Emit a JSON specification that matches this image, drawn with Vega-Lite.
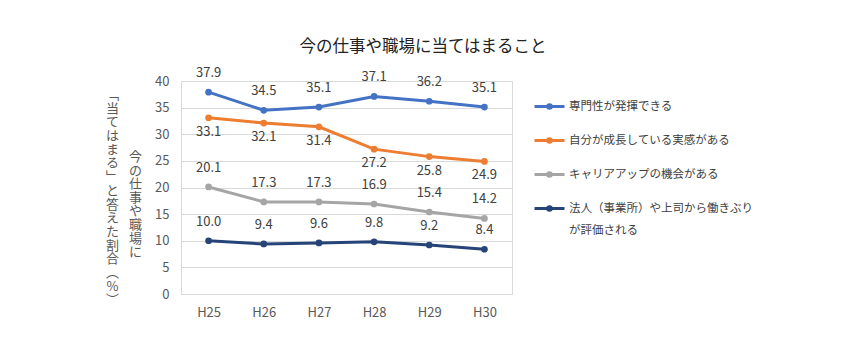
{
  "$schema": "https://vega.github.io/schema/vega-lite/v6.json",
  "width": 331,
  "height": 213,
  "autosize": {"type": "none"},
  "padding": {"left": 181, "top": 81, "right": 334, "bottom": 66},
  "background": "white",
  "title": {
    "text": "今の仕事や職場に当てはまること",
    "anchor": "middle",
    "frame": "group",
    "dx": 76.5,
    "fontSize": 16.5,
    "fontWeight": "normal",
    "font": "Noto Sans CJK JP",
    "color": "#222222",
    "offset": 12
  },
  "data": {
    "values": [
      {"year": "H25", "series": "専門性が発揮できる", "value": 37.9},
      {"year": "H26", "series": "専門性が発揮できる", "value": 34.5},
      {"year": "H27", "series": "専門性が発揮できる", "value": 35.1},
      {"year": "H28", "series": "専門性が発揮できる", "value": 37.1},
      {"year": "H29", "series": "専門性が発揮できる", "value": 36.2},
      {"year": "H30", "series": "専門性が発揮できる", "value": 35.1},
      {"year": "H25", "series": "自分が成長している実感がある", "value": 33.1},
      {"year": "H26", "series": "自分が成長している実感がある", "value": 32.1},
      {"year": "H27", "series": "自分が成長している実感がある", "value": 31.4},
      {"year": "H28", "series": "自分が成長している実感がある", "value": 27.2},
      {"year": "H29", "series": "自分が成長している実感がある", "value": 25.8},
      {"year": "H30", "series": "自分が成長している実感がある", "value": 24.9},
      {"year": "H25", "series": "キャリアアップの機会がある", "value": 20.1},
      {"year": "H26", "series": "キャリアアップの機会がある", "value": 17.3},
      {"year": "H27", "series": "キャリアアップの機会がある", "value": 17.3},
      {"year": "H28", "series": "キャリアアップの機会がある", "value": 16.9},
      {"year": "H29", "series": "キャリアアップの機会がある", "value": 15.4},
      {"year": "H30", "series": "キャリアアップの機会がある", "value": 14.2},
      {"year": "H25", "series": "法人（事業所）や上司から働きぶりが評価される", "value": 10.0},
      {"year": "H26", "series": "法人（事業所）や上司から働きぶりが評価される", "value": 9.4},
      {"year": "H27", "series": "法人（事業所）や上司から働きぶりが評価される", "value": 9.6},
      {"year": "H28", "series": "法人（事業所）や上司から働きぶりが評価される", "value": 9.8},
      {"year": "H29", "series": "法人（事業所）や上司から働きぶりが評価される", "value": 9.2},
      {"year": "H30", "series": "法人（事業所）や上司から働きぶりが評価される", "value": 8.4}
    ]
  },
  "encoding": {
    "x": {
      "field": "year",
      "type": "ordinal",
      "scale": {"type": "point", "padding": 0.5},
      "axis": {
        "title": null,
        "labelAngle": 0,
        "ticks": false,
        "domain": true,
        "domainColor": "#d9d9d9",
        "grid": false,
        "labelPadding": 12,
        "labelFontSize": 13,
        "labelColor": "#595959",
        "labelFont": "Noto Sans CJK JP"
      }
    }
  },
  "layer": [
    {
      "mark": {"type": "line", "strokeWidth": 3, "point": {"filled": true, "size": 45}},
      "encoding": {
        "y": {
          "field": "value",
          "type": "quantitative",
          "scale": {"domain": [0, 40], "nice": false},
          "axis": {
            "orient": "left",
            "values": [0, 5, 10, 15, 20, 25, 30, 35, 40],
            "ticks": false,
            "domain": false,
            "gridColor": "#d9d9d9",
            "labelPadding": 12,
            "labelFontSize": 13,
            "labelColor": "#595959",
            "labelFont": "Noto Sans CJK JP",
            "title": ["﹁", "当", "て", "は", "ま", "る", "﹂", "と", "答", "え", "た", "割", "合", "︵", "%", "︶"],
            "titleAngle": 0.01,
            "titleAlign": "center",
            "titleBaseline": "top",
            "titleX": -69,
            "titleY": 7.5,
            "titleLineHeight": 13.7,
            "titleFontSize": 13,
            "titleFontWeight": "normal",
            "titleFont": "Noto Sans CJK JP",
            "titleColor": "#595959",
            "titleLimit": 1000
          }
        },
        "color": {
          "field": "series",
          "type": "nominal",
          "sort": null,
          "scale": {
            "domain": ["専門性が発揮できる", "自分が成長している実感がある", "キャリアアップの機会がある", "法人（事業所）や上司から働きぶりが評価される"],
            "range": ["#4472C4", "#ED7D31", "#A5A5A5", "#264478"]
          },
          "legend": {
            "title": null,
            "orient": "none",
            "legendX": 352,
            "legendY": 3,
            "symbolType": "M-1,0.4H1M-0.12,0.4A0.12,0.12,0,1,1,0.12,0.4A0.12,0.12,0,1,1,-0.12,0.4",
            "symbolSize": 900,
            "symbolStrokeWidth": 3,
            "labelBaseline": "top",
            "labelFontSize": 11.5,
            "labelFont": "Noto Sans CJK JP",
            "labelColor": "#404040",
            "labelLimit": 400,
            "labelOffset": 3,
            "rowPadding": 3,
            "labelExpr": "datum.label == '法人（事業所）や上司から働きぶりが評価される' ? ['法人（事業所）や上司から働きぶり', 'が評価される'] : datum.label"
          }
        }
      }
    },
    {
      "transform": [{"filter": "datum.series != '自分が成長している実感がある'"}],
      "mark": {"type": "text", "dy": -19, "fontSize": 13, "font": "Noto Sans CJK JP", "color": "#404040"},
      "encoding": {
        "y": {
          "field": "value",
          "type": "quantitative",
          "axis": {
            "orient": "left",
            "labels": false,
            "ticks": false,
            "domain": false,
            "grid": false,
            "title": ["今", "の", "仕", "事", "や", "職", "場", "に"],
            "titleAngle": 0.01,
            "titleAlign": "center",
            "titleBaseline": "top",
            "titleX": -46,
            "titleY": 69.5,
            "titleLineHeight": 13.6,
            "titleFontSize": 13,
            "titleFontWeight": "normal",
            "titleFont": "Noto Sans CJK JP",
            "titleColor": "#595959",
            "titleLimit": 1000
          }
        },
        "text": {"field": "value", "type": "quantitative", "format": ".1f"}
      }
    },
    {
      "transform": [{"filter": "datum.series == '自分が成長している実感がある'"}],
      "mark": {"type": "text", "dy": 14, "fontSize": 13, "font": "Noto Sans CJK JP", "color": "#404040"},
      "encoding": {
        "y": {"field": "value", "type": "quantitative", "axis": null},
        "text": {"field": "value", "type": "quantitative", "format": ".1f"}
      }
    }
  ],
  "resolve": {"axis": {"y": "independent"}},
  "config": {
    "view": {"stroke": "#d9d9d9", "strokeWidth": 1},
    "style": {"guide-label": {"lineHeight": 22}}
  }
}
